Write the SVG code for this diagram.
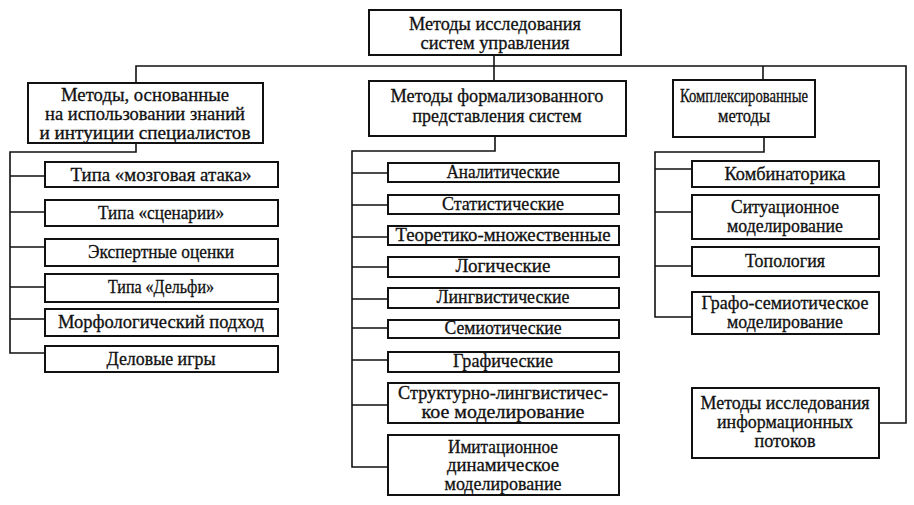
<svg xmlns="http://www.w3.org/2000/svg" width="914" height="505" viewBox="0 0 914 505">
<style>
.box{fill:#fff;stroke:#111;stroke-width:2}
.ln{fill:none;stroke:#111;stroke-width:1.6}
text{font-family:"Liberation Serif","Times New Roman","DejaVu Serif",serif;font-size:18px;fill:#111;stroke:#111;stroke-width:0.3;text-anchor:middle}
</style>
<rect width="914" height="505" fill="#fff"/>
<g id="connectors">
<path class="ln" d="M494 55V81"/>
<path class="ln" d="M136 83V66H906V423H879"/>
<path class="ln" d="M763 66V80"/>
<path class="ln" d="M136 143V152H10V353H45"/>
<path class="ln" d="M10 176H45M10 212H45M10 247H45M10 287H45M10 319H45"/>
<path class="ln" d="M495 136V151H352V467H388"/>
<path class="ln" d="M352 173H388M352 205H388M352 237H388M352 267H388M352 299H388M352 328H388M352 360H388M352 405H388"/>
<path class="ln" d="M764 137V152H655V317H692"/>
<path class="ln" d="M655 169H692M655 212H692M655 266H692"/>
</g>
<g id="root"><rect class="box" x="369" y="10" width="252" height="45"/><text x="495" y="30" textLength="172" lengthAdjust="spacingAndGlyphs">Методы исследования</text><text x="495" y="49" textLength="149" lengthAdjust="spacingAndGlyphs">систем управления</text></g>
<g id="expert"><rect class="box" x="28" y="83" width="235" height="60"/><text x="145" y="101" textLength="168" lengthAdjust="spacingAndGlyphs">Методы, основанные</text><text x="145" y="120" textLength="200" lengthAdjust="spacingAndGlyphs">на использовании знаний</text><text x="145" y="139" textLength="211" lengthAdjust="spacingAndGlyphs">и интуиции специалистов</text></g>
<g id="formal"><rect class="box" x="369" y="81" width="257" height="55"/><text x="497" y="102" textLength="213" lengthAdjust="spacingAndGlyphs">Методы формализованного</text><text x="497" y="122" textLength="169" lengthAdjust="spacingAndGlyphs">представления систем</text></g>
<g id="complex"><rect class="box" x="673" y="80" width="142" height="57"/><text x="744" y="102" textLength="128" lengthAdjust="spacingAndGlyphs">Комплексированные</text><text x="744" y="122" textLength="52" lengthAdjust="spacingAndGlyphs">методы</text></g>
<g id="l1"><rect class="box" x="45" y="162" width="233" height="25"/><text x="161" y="181" textLength="181" lengthAdjust="spacingAndGlyphs">Типа «мозговая атака»</text></g>
<g id="l2"><rect class="box" x="45" y="200" width="233" height="26"/><text x="161" y="219" textLength="126" lengthAdjust="spacingAndGlyphs">Типа «сценарии»</text></g>
<g id="l3"><rect class="box" x="45" y="239" width="233" height="27"/><text x="161" y="258" textLength="146" lengthAdjust="spacingAndGlyphs">Экспертные оценки</text></g>
<g id="l4"><rect class="box" x="45" y="274" width="233" height="28"/><text x="161" y="293" textLength="106" lengthAdjust="spacingAndGlyphs">Типа «Дельфи»</text></g>
<g id="l5"><rect class="box" x="45" y="309" width="233" height="27"/><text x="161" y="328" textLength="206" lengthAdjust="spacingAndGlyphs">Морфологический подход</text></g>
<g id="l6"><rect class="box" x="45" y="346" width="233" height="26"/><text x="161" y="365" textLength="109" lengthAdjust="spacingAndGlyphs">Деловые игры</text></g>
<g id="m1"><rect class="box" x="388" y="163" width="231" height="19"/><text x="503" y="178" textLength="113" lengthAdjust="spacingAndGlyphs">Аналитические</text></g>
<g id="m2"><rect class="box" x="388" y="195" width="231" height="19"/><text x="503" y="210" textLength="122" lengthAdjust="spacingAndGlyphs">Статистические</text></g>
<g id="m3"><rect class="box" x="388" y="226" width="231" height="19"/><text x="503" y="241" textLength="215" lengthAdjust="spacingAndGlyphs">Теоретико-множественные</text></g>
<g id="m4"><rect class="box" x="388" y="257" width="231" height="20"/><text x="503" y="272" textLength="95" lengthAdjust="spacingAndGlyphs">Логические</text></g>
<g id="m5"><rect class="box" x="388" y="288" width="231" height="20"/><text x="503" y="303" textLength="133" lengthAdjust="spacingAndGlyphs">Лингвистические</text></g>
<g id="m6"><rect class="box" x="388" y="320" width="231" height="18"/><text x="503" y="334" textLength="117" lengthAdjust="spacingAndGlyphs">Семиотические</text></g>
<g id="m7"><rect class="box" x="388" y="352" width="231" height="20"/><text x="503" y="367" textLength="100" lengthAdjust="spacingAndGlyphs">Графические</text></g>
<g id="m8"><rect class="box" x="388" y="383" width="231" height="40"/><text x="503" y="399" textLength="210" lengthAdjust="spacingAndGlyphs">Структурно-лингвистичес-</text><text x="503" y="418" textLength="163" lengthAdjust="spacingAndGlyphs">кое моделирование</text></g>
<g id="m9"><rect class="box" x="388" y="435" width="231" height="60"/><text x="503" y="453" textLength="110" lengthAdjust="spacingAndGlyphs">Имитационное</text><text x="503" y="471" textLength="112" lengthAdjust="spacingAndGlyphs">динамическое</text><text x="503" y="490" textLength="117" lengthAdjust="spacingAndGlyphs">моделирование</text></g>
<g id="r1"><rect class="box" x="692" y="161" width="187" height="26"/><text x="785" y="180" textLength="121" lengthAdjust="spacingAndGlyphs">Комбинаторика</text></g>
<g id="r2"><rect class="box" x="692" y="195" width="187" height="44"/><text x="785" y="213" textLength="108" lengthAdjust="spacingAndGlyphs">Ситуационное</text><text x="785" y="232" textLength="116" lengthAdjust="spacingAndGlyphs">моделирование</text></g>
<g id="r3"><rect class="box" x="692" y="247" width="187" height="29"/><text x="785" y="267" textLength="80" lengthAdjust="spacingAndGlyphs">Топология</text></g>
<g id="r4"><rect class="box" x="692" y="292" width="187" height="42"/><text x="785" y="309" textLength="167" lengthAdjust="spacingAndGlyphs">Графо-семиотическое</text><text x="785" y="328" textLength="116" lengthAdjust="spacingAndGlyphs">моделирование</text></g>
<g id="info"><rect class="box" x="692" y="388" width="187" height="70"/><text x="785" y="409" textLength="169" lengthAdjust="spacingAndGlyphs">Методы исследования</text><text x="785" y="428" textLength="136" lengthAdjust="spacingAndGlyphs">информационных</text><text x="785" y="447" textLength="61" lengthAdjust="spacingAndGlyphs">потоков</text></g>
</svg>
